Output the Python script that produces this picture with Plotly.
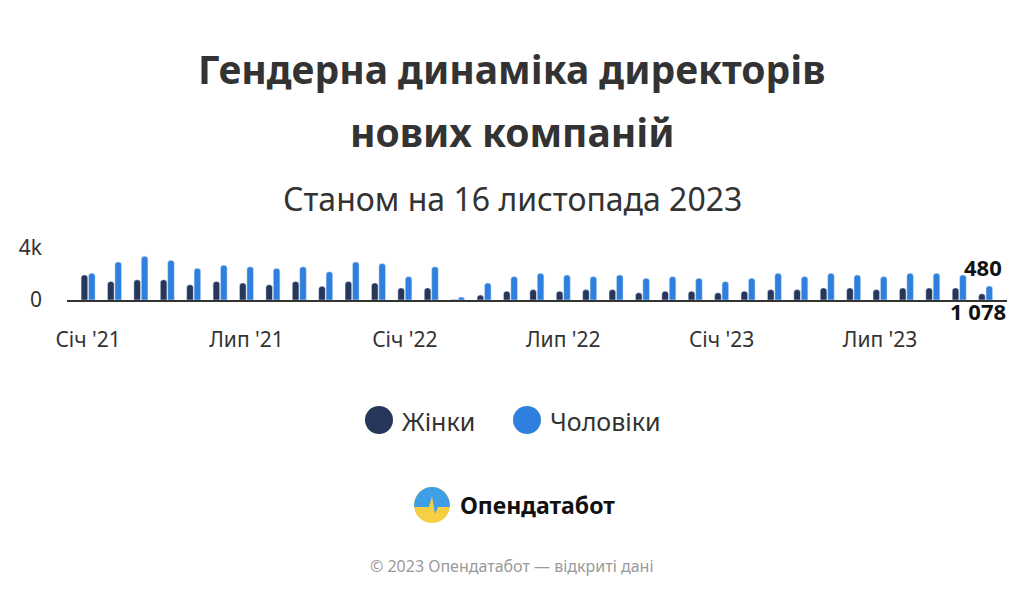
import plotly.graph_objects as go

# ---- data ----
month_names = ["Січ", "Лют", "Бер", "Кві", "Тра", "Чер", "Лип", "Сер", "Вер", "Жов", "Лис", "Гру"]
years = ["21", "22", "23"]
months = [f"{m} '{y}" for y in years for m in month_names][:35]

women = [1930, 1430, 1560, 1560, 1180, 1430, 1310, 1180, 1430, 1050, 1430, 1310,
         930, 930, 40, 380, 680, 800, 680, 800, 800, 560, 680, 680,
         560, 680, 800, 800, 930, 930, 800, 930, 930, 930, 480]
men = [2060, 2930, 3360, 3060, 2440, 2680, 2560, 2440, 2560, 2180, 2930, 2810,
       1800, 2560, 230, 1310, 1800, 2060, 1930, 1800, 1930, 1680, 1800, 1680,
       1430, 1680, 2060, 1800, 2060, 1930, 1800, 2060, 2060, 1930, 1078]

series_names = ["Жінки", "Чоловіки"]
tick_months = months[::6]
y_ticks = [0, 4000]
y_ticktext = ["0", "4k"]

title_lines = ["Гендерна динаміка директорів", "нових компаній"]
subtitle = "Станом на 16 листопада 2023"
brand = "Опендатабот"
footer = "© 2023 Опендатабот — відкриті дані"

# ---- styling ----
OFF = 8  # page body margin
W, H = 1024 - OFF, 597 - OFF
PL, PR, PT, PB = 67, 1007, 248, 300  # plot area in reference pixels
C_W = "#27375c"
C_M = "#2f80de"
FONT = "Noto Sans"
TXT = "#333333"


def px(x):
    return (x - PL) / (PR - PL)


def py(y):
    return (PB - y) / (PB - PT)


def fmt(v):
    return f"{v:,}".replace(",", " ")


fig = go.Figure()
fig.add_trace(go.Bar(x=months, y=women, name=series_names[0], marker_color=C_W,
                     showlegend=False, hoverinfo="x+y"))
fig.add_trace(go.Bar(x=months, y=men, name=series_names[1], marker_color=C_M,
                     showlegend=False, hoverinfo="x+y"))

annotations = []
for i, line in enumerate(title_lines):
    annotations.append(dict(text=f"<b>{line}</b>", x=px(512), y=py([68, 131][i]),
                            xref="paper", yref="paper", showarrow=False,
                            font=dict(family=FONT, size=39, color=TXT),
                            xanchor="center", yanchor="middle"))
annotations.append(dict(text=subtitle, x=px(512), y=py(198), xref="paper", yref="paper",
                        showarrow=False, font=dict(family=FONT, size=32, color=TXT),
                        xanchor="center", yanchor="middle"))
# data labels for last month
annotations.append(dict(text=f"<b>{fmt(women[-1])}</b>", x=months[-1], y=women[-1],
                        xref="x", yref="y", showarrow=False, yanchor="bottom",
                        yshift=10, xshift=-3,
                        font=dict(family=FONT, size=22, color="#111111")))
annotations.append(dict(text=f"<b>{fmt(men[-1])}</b>", x=months[-1], y=men[-1],
                        xref="x", yref="y", showarrow=False, yanchor="top",
                        yshift=-8, xshift=-8,
                        font=dict(family=FONT, size=22, color="#111111")))
annotations.append(dict(text=f"<b>{brand}</b>", x=px(458), y=py(505), xref="paper", yref="paper",
                        showarrow=False, xanchor="left", yanchor="middle",
                        font=dict(family=FONT, size=23, color="#111111")))
annotations.append(dict(text=footer, x=px(512), y=py(566), xref="paper", yref="paper",
                        showarrow=False, xanchor="center", yanchor="middle",
                        font=dict(family=FONT, size=16, color="#9a9a9a")))

shapes = []
# custom legend with large round markers
legend_items = [(series_names[0], C_W, 379, 400), (series_names[1], C_M, 527, 548)]
for nm, col, mx, tx in legend_items:
    shapes.append(dict(type="circle", xref="paper", yref="paper", xsizemode="pixel",
                       ysizemode="pixel", xanchor=px(mx), yanchor=py(420),
                       x0=-14, x1=14, y0=-14, y1=14, fillcolor=col,
                       line=dict(width=0), layer="above"))
    annotations.append(dict(text=nm, x=px(tx), y=py(421), xref="paper", yref="paper",
                            showarrow=False, xanchor="left", yanchor="middle",
                            font=dict(family=FONT, size=25, color=TXT)))

# logo
cx, cy, r = px(432), py(505), 18
k = 0.5523 * r
shapes += [
    dict(type="circle", xref="paper", yref="paper", xsizemode="pixel", ysizemode="pixel",
         xanchor=cx, yanchor=cy, x0=-r, x1=r, y0=-r, y1=r,
         fillcolor="#f6cf45", line=dict(width=0), layer="above"),
    dict(type="path", xref="paper", yref="paper", xsizemode="pixel", ysizemode="pixel",
         xanchor=cx, yanchor=cy,
         path=(f"M {-r},-2 C {-r},{k} {-k},{r} 0,{r} C {k},{r} {r},{k} {r},-2 "
               f"L 6,-2 L 3,-9 L 0,9 L -3,-2 Z"),
         fillcolor="#3f9fe6", line=dict(width=0), layer="above"),
]

fig.update_layout(
    width=W, height=H,
    margin=dict(l=PL - OFF, r=1024 - PR, t=PT - OFF, b=597 - PB, pad=0),
    paper_bgcolor="white", plot_bgcolor="white",
    barmode="group", bargap=0.44, bargroupgap=0.1, barcornerradius=3,
    font=dict(family=FONT, color=TXT),
    showlegend=False,
    annotations=annotations,
    shapes=shapes,
    xaxis=dict(type="category", tickvals=tick_months, ticktext=tick_months,
               showgrid=False, showline=True, linecolor="#333333", linewidth=1.5,
               ticks="", ticklabelstandoff=20, tickfont=dict(family=FONT, size=21, color=TXT),
               range=[-0.8, 34.81], fixedrange=True),
    yaxis=dict(range=[0, 4000], tickvals=y_ticks, ticktext=y_ticktext,
               showgrid=True, gridcolor="#e6e6e6", gridwidth=1, zeroline=False,
               showline=False, ticks="", ticklabelstandoff=24,
               tickfont=dict(family=FONT, size=21, color=TXT), fixedrange=True),
)

fig.write_html("out.html")
